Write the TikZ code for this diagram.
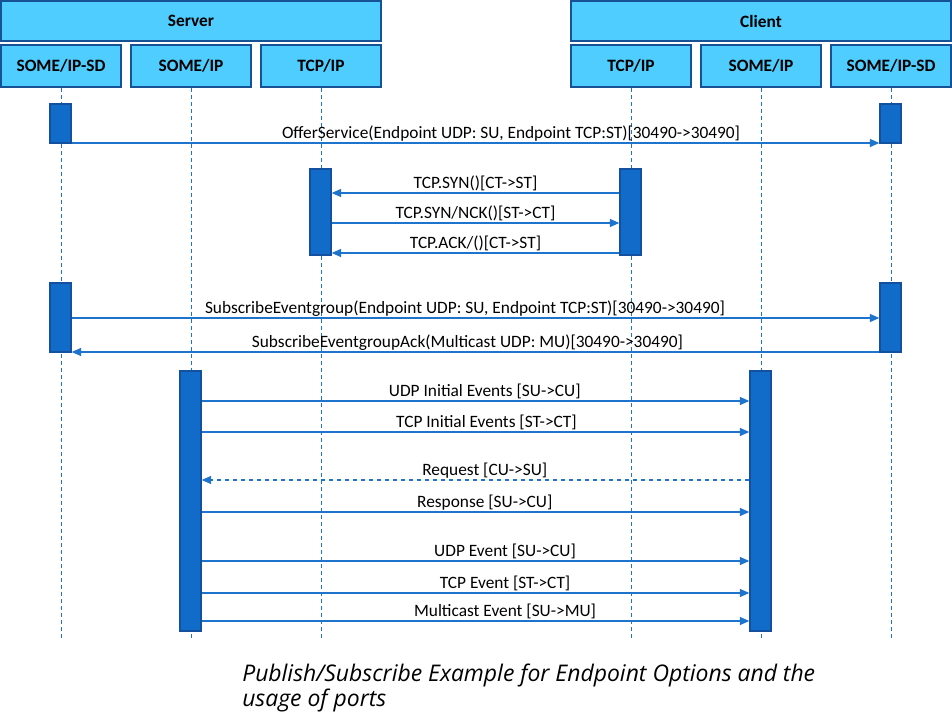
\documentclass[tikz,border=0pt]{standalone}
\usepackage{fontspec}
\setmainfont{Carlito}
\newfontfamily\capfont{Open Sans}
\usetikzlibrary{arrows.meta}
\definecolor{boxfill}{RGB}{80,205,255}
\definecolor{boxline}{RGB}{22,82,148}
\definecolor{barfill}{RGB}{16,108,200}
\definecolor{barline}{RGB}{20,80,160}
\definecolor{msgline}{RGB}{30,115,205}
\tikzset{
  hdr/.style={draw=boxline, line width=1.5pt, fill=boxfill, inner sep=0pt,
    minimum height=30pt, font=\fontsize{13}{15}\selectfont\bfseries},
  layer/.style={hdr, minimum width=90pt, minimum height=31.5pt},
  life/.style={draw=msgline, line width=0.7pt, dash pattern=on 3pt off 2.25pt},
  bar/.style={draw=barline, line width=1.1pt, fill=barfill, inner sep=0pt, minimum width=15.75pt},
  msg/.style={draw=msgline, line width=0.8pt, -{Triangle[length=7pt, width=6pt]}},
  lbl/.style={above, inner sep=1pt, font=\fontsize{13}{15}\selectfont}
}

\begin{document}
\begin{tikzpicture}[x=0.75pt, y=-0.75pt]
      \useasboundingbox (0,0) rectangle (952,712);
      \def\lend{640}

      % Partners
      \node[hdr, minimum width=285pt] (server) at (191,21) {Server};
      \node[hdr, minimum width=285pt] (client) at (761,21) {Client};

      % Layers
      \node[layer] (sdS) at (61,66) {SOME/IP-SD};
      \node[layer] (ipS) at (191,66) {SOME/IP};
      \node[layer] (tcpS) at (321,66) {TCP/IP};
      \node[layer] (tcpC) at (631,66) {TCP/IP};
      \node[layer] (ipC) at (761,66) {SOME/IP};
      \node[layer] (sdC) at (891,66) {SOME/IP-SD};

      % Lifelines
      \foreach \l in {sdS, ipS, tcpS, tcpC, ipC, sdC}
        \draw[life] (\l.south) -- (\l.south |- 0,\lend);

      % Activations
      \node[bar, minimum height=29.25pt] (offS) at (60.5,123.5) {};
      \node[bar, minimum height=29.25pt] (offC) at (890.5,123.5) {};
      \node[bar, minimum height=64.5pt] (synS) at (320.5,212) {};
      \node[bar, minimum height=64.5pt] (synC) at (630.5,212) {};
      \node[bar, minimum height=51.75pt] (subS) at (60.5,317.5) {};
      \node[bar, minimum height=51.75pt] (subC) at (890.5,317.5) {};
      \node[bar, minimum height=195pt] (evS) at (190.5,501) {};
      \node[bar, minimum height=195pt] (evC) at (760.5,501) {};

      % Service discovery
      \draw[msg] (offS.east |- 0,143) -- (offC.west |- 0,143)
        node[lbl, pos=0.544] {OfferService(Endpoint UDP: SU, Endpoint TCP:ST)[30490->30490]};

      % TCP handshake
      \draw[msg] (synC.west |- 0,193) -- (synS.east |- 0,193)
        node[lbl, midway] {TCP.SYN()[CT->ST]};
      \draw[msg] (synS.east |- 0,223) -- (synC.west |- 0,223)
        node[lbl, midway] {TCP.SYN/NCK()[ST->CT]};
      \draw[msg] (synC.west |- 0,253) -- (synS.east |- 0,253)
        node[lbl, midway] {TCP.ACK/()[CT->ST]};

      % Subscription
      \draw[msg] (subS.east |- 0,318) -- (subC.west |- 0,318)
        node[lbl, pos=0.487] {SubscribeEventgroup(Endpoint UDP: SU, Endpoint TCP:ST)[30490->30490]};
      \draw[msg] (subC.west |- 0,352) -- (subS.east |- 0,352)
        node[lbl, pos=0.51] {SubscribeEventgroupAck(Multicast UDP: MU)[30490->30490]};

      % Events
      \draw[msg] (evS.east |- 0,401) -- (evC.west |- 0,401)
        node[lbl, pos=0.517] {UDP Initial Events [SU->CU]};
      \draw[msg] (evS.east |- 0,432) -- (evC.west |- 0,432)
        node[lbl, pos=0.52] {TCP Initial Events [ST->CT]};
      \draw[msg, dashed] (evC.west |- 0,480) -- (evS.east |- 0,480)
        node[lbl, pos=0.483] {Request [CU->SU]};
      \draw[msg] (evS.east |- 0,512) -- (evC.west |- 0,512)
        node[lbl, pos=0.517] {Response [SU->CU]};
      \draw[msg] (evS.east |- 0,561) -- (evC.west |- 0,561)
        node[lbl, pos=0.554] {UDP Event [SU->CU]};
      \draw[msg] (evS.east |- 0,593) -- (evC.west |- 0,593)
        node[lbl, pos=0.554] {TCP Event [ST->CT]};
      \draw[msg] (evS.east |- 0,621) -- (evC.west |- 0,621)
        node[lbl, pos=0.554] {Multicast Event [SU->MU]};

      % Caption
      \node[anchor=north west, align=left, inner sep=0pt,
        font=\capfont\itshape\fontsize{17.2}{16}\selectfont] (caption) at (242,664)
        {Publish/Subscribe Example for Endpoint Options and the\\usage of ports};
\end{tikzpicture}
\end{document}
